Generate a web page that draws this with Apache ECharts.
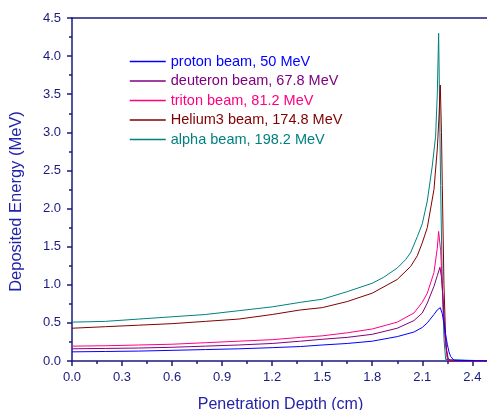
<!DOCTYPE html>
<html>
<head>
<meta charset="utf-8">
<script src="https://cdn.jsdelivr.net/npm/echarts@6/dist/echarts.min.js"></script>
<style>
html,body{margin:0;padding:0;background:#fff;}
#chart{width:487px;height:410px;}
</style>
</head>
<body>
<div id="chart"></div>
<script>
// Series names and colours
var seriesNames = ['proton beam, 50 MeV','deuteron beam, 67.8 MeV','triton beam, 81.2 MeV','Helium3 beam, 174.8 MeV','alpha beam, 198.2 MeV'];
var seriesColors = ['#0000ff','#800080','#ff0080','#800000','#008080'];

// Depth (cm) and deposited energy (MeV) per series
var protonDepth  = [0,0.2,0.4,0.6,0.8,1.0,1.2,1.37,1.5,1.65,1.8,1.95,2.05,2.1,2.13,2.17,2.19,2.208,2.22,2.23,2.24,2.25,2.26,2.27,2.29,2.3,2.5];
var protonValue  = [0.12,0.125,0.13,0.14,0.15,0.16,0.175,0.19,0.21,0.23,0.26,0.32,0.38,0.44,0.50,0.61,0.67,0.70,0.62,0.50,0.35,0.22,0.12,0.06,0.01,0,0];

var deuteronDepth = [0,0.2,0.4,0.6,0.8,1.0,1.2,1.37,1.5,1.65,1.8,1.95,2.05,2.1,2.13,2.17,2.19,2.206,2.215,2.225,2.235,2.245,2.255,2.27,2.5];
var deuteronValue = [0.16,0.165,0.17,0.18,0.195,0.21,0.23,0.26,0.285,0.31,0.35,0.43,0.53,0.63,0.76,0.98,1.12,1.23,1.10,0.80,0.40,0.15,0.04,0,0];

var tritonDepth = [0,0.2,0.4,0.6,0.8,1.0,1.2,1.37,1.5,1.65,1.8,1.95,2.05,2.1,2.13,2.17,2.19,2.198,2.21,2.22,2.23,2.24,2.25,2.26,2.5];
var tritonValue = [0.195,0.20,0.21,0.22,0.24,0.26,0.28,0.31,0.33,0.37,0.42,0.51,0.63,0.77,0.89,1.16,1.48,1.70,1.45,1.00,0.50,0.20,0.05,0,0];

var helium3Depth = [0,0.2,0.4,0.6,0.8,1.0,1.2,1.37,1.5,1.65,1.8,1.95,2.03,2.07,2.1,2.13,2.17,2.19,2.2,2.208,2.215,2.22,2.23,2.24,2.25,2.26,2.5];
var helium3Value = [0.43,0.45,0.47,0.49,0.52,0.55,0.61,0.67,0.70,0.78,0.89,1.07,1.24,1.38,1.55,1.75,2.25,2.78,3.20,3.62,3.00,2.30,1.00,0.30,0.03,0,0];

var alphaDepth = [0,0.2,0.4,0.6,0.8,1.0,1.2,1.37,1.5,1.65,1.8,1.87,1.95,2.0,2.03,2.07,2.1,2.13,2.16,2.18,2.19,2.198,2.21,2.22,2.23,2.24,2.25,2.5];
var alphaValue = [0.51,0.52,0.55,0.58,0.61,0.66,0.71,0.77,0.81,0.91,1.02,1.10,1.22,1.33,1.42,1.63,1.80,2.10,2.56,2.95,3.50,4.30,2.30,1.00,0.30,0.02,0,0];

var xTicks = [0,0.3,0.6,0.9,1.2,1.5,1.8,2.1,2.4];
var yTicks = [0,0.5,1.0,1.5,2.0,2.5,3.0,3.5,4.0,4.5];

function pairs(xs, ys){ return xs.map(function(x,i){ return [x, ys[i]]; }); }
var allDepth = [protonDepth, deuteronDepth, tritonDepth, helium3Depth, alphaDepth];
var allValue = [protonValue, deuteronValue, tritonValue, helium3Value, alphaValue];

var axisColor = '#1a1a80';
var labelColor = '#1a1a80';
var nameColor = '#2323a8';
var font = 'Arial, "Liberation Sans", sans-serif';

var chart = echarts.init(document.getElementById('chart'), null, {renderer:'canvas'});
var series = seriesNames.map(function(n, i){
  return {
    name: n, type: 'line', showSymbol: false, symbol: 'none',
    data: pairs(allDepth[i], allValue[i]),
    lineStyle: {color: seriesColors[i], width: 1},
    itemStyle: {color: seriesColors[i]},
    animation: false, z: 10 - i
  };
});

chart.setOption({
  animation: false,
  grid: {left: 72, top: 18, right: -2, bottom: 49, containLabel: false, outerBoundsMode: 'none'},
  legend: {
    orient: 'vertical', left: 129, top: 54, padding: 0,
    itemWidth: 36, itemHeight: 14, itemGap: 4.5,
    itemStyle: {opacity: 0},
    lineStyle: {width: 1.5},
    data: seriesNames.map(function(n,i){ return {name: n, textStyle: {color: seriesColors[i]}}; }),
    textStyle: {fontFamily: font, fontSize: 14.5, lineHeight: 14, padding: 0}
  },
  xAxis: [{
    type: 'value', min: 0, max: 2.5, interval: 0.3,
    name: 'Penetration Depth (cm)', nameLocation: 'middle', nameGap: 36,
    nameTextStyle: {color: nameColor, fontSize: 16, fontFamily: font},
    axisLine: {show: true, lineStyle: {color: axisColor, width: 1.5}},
    axisTick: {show: true, inside: false, length: 5, lineStyle: {color: axisColor, width: 1.5}},
    minorTick: {show: true, splitNumber: 2, length: 3, lineStyle: {color: axisColor, width: 1.5}},
    axisLabel: {color: labelColor, fontSize: 13, fontFamily: font, margin: 10,
      formatter: function(v){ return xTicks.indexOf(Math.round(v*10)/10) >= 0 ? v.toFixed(1) : ''; }},
    splitLine: {show: false}
  },{
    type: 'value', position: 'top', min: 0, max: 2.5,
    axisLine: {show: true, onZero: false, lineStyle: {color: axisColor, width: 1.5}},
    axisTick: {show: false}, axisLabel: {show: false}, splitLine: {show: false}
  }],
  yAxis: {
    type: 'value', min: 0, max: 4.5, interval: 0.5,
    name: 'Deposited Energy (MeV)', nameLocation: 'middle', nameGap: 47, nameRotate: 90,
    nameTextStyle: {color: nameColor, fontSize: 16.5, fontFamily: font, padding: [0, 24, 0, 0]},
    axisLine: {show: true, lineStyle: {color: axisColor, width: 1.5}},
    axisTick: {show: true, inside: false, length: 5, lineStyle: {color: axisColor, width: 1.5}},
    minorTick: {show: true, splitNumber: 2, length: 3, lineStyle: {color: axisColor, width: 1.5}},
    axisLabel: {color: labelColor, fontSize: 13, fontFamily: font, margin: 11,
      formatter: function(v){ return v.toFixed(1); }},
    splitLine: {show: false}
  },
  series: series
});
</script>
</body>
</html>
